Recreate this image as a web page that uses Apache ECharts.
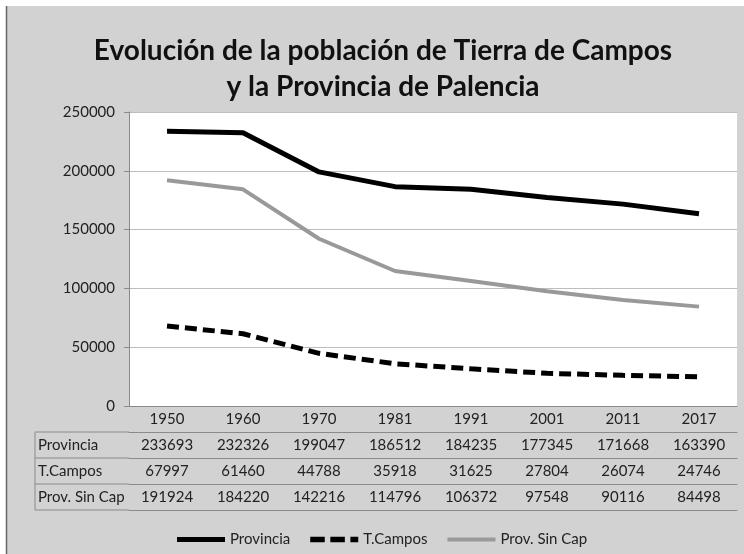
<!DOCTYPE html>
<html>
<head>
<meta charset="utf-8">
<script src="https://cdn.jsdelivr.net/npm/echarts@6/dist/echarts.min.js"></script>
<style>
  * { margin: 0; padding: 0; }
  body { background: #fff; }
  #chart { width: 744px; height: 554px; }
</style>
</head>
<body>
<div id="chart"></div>
<script>
// datos de la tabla
var years = ['1950', '1960', '1970', '1981', '1991', '2001', '2011', '2017'];
var provincia = [233693, 232326, 199047, 186512, 184235, 177345, 171668, 163390];
var tCampos = [67997, 61460, 44788, 35918, 31625, 27804, 26074, 24746];
var provSinCap = [191924, 184220, 142216, 114796, 106372, 97548, 90116, 84498];
var rowNames = ['Provincia', 'T.Campos', 'Prov. Sin Cap'];

var FONT = 'Lato';
var GRID_LEFT = 129, GRID_RIGHT = 7, GRID_TOP = 112, AXIS_Y = 406;
var ROW_H = 26, TABLE_LEFT = 35;
var LINE_COLOR = '#8a8a8a';

var rows = [provincia, tCampos, provSinCap];

// un eje por fila de la tabla, para que las celdas queden alineadas
var xAxes = [{
  type: 'category',
  data: years,
  position: 'bottom',
  axisLine: { lineStyle: { color: LINE_COLOR } },
  axisTick: { length: ROW_H, interval: 0, lineStyle: { color: LINE_COLOR } },
  axisLabel: { interval: 0, margin: 6, fontFamily: FONT, fontSize: 15, color: '#222' }
}];
rows.forEach(function (r, i) {
  xAxes.push({
    type: 'category',
    data: r.map(String),
    position: 'bottom',
    offset: ROW_H * (i + 1),
    axisLine: { lineStyle: { color: LINE_COLOR } },
    axisTick: { length: ROW_H, interval: 0, lineStyle: { color: LINE_COLOR } },
    axisLabel: { interval: 0, margin: 6, fontFamily: FONT, fontSize: 15, color: '#222' }
  });
});
xAxes.push({
  type: 'category',
  data: years,
  position: 'bottom',
  offset: ROW_H * 4,
  axisLine: { lineStyle: { color: LINE_COLOR } },
  axisTick: { show: false },
  axisLabel: { show: false }
});

// columna de la izquierda con los nombres de las filas
var extra = [];
for (var i = 1; i <= 4; i++) {
  extra.push({
    type: 'line',
    shape: { x1: TABLE_LEFT, y1: AXIS_Y + ROW_H * i, x2: GRID_LEFT, y2: AXIS_Y + ROW_H * i },
    style: { stroke: LINE_COLOR, lineWidth: 1 }
  });
}
extra.push({
  type: 'line',
  shape: { x1: TABLE_LEFT, y1: AXIS_Y + ROW_H, x2: TABLE_LEFT, y2: AXIS_Y + ROW_H * 4 },
  style: { stroke: LINE_COLOR, lineWidth: 1 }
});
rowNames.forEach(function (n, i) {
  extra.push({
    type: 'text',
    x: TABLE_LEFT + 3,
    y: AXIS_Y + ROW_H * (i + 1) + ROW_H / 2,
    style: { text: n, font: '15px ' + FONT, fill: '#222', verticalAlign: 'middle' }
  });
});
// marco de la imagen
extra.push(
  { type: 'rect', shape: { x: 0, y: 0, width: 744, height: 6 }, style: { fill: '#fff' } },
  { type: 'rect', shape: { x: 0, y: 0, width: 6, height: 554 }, style: { fill: '#fff' } },
  { type: 'line', shape: { x1: 6.5, y1: 6, x2: 6.5, y2: 554 }, style: { stroke: '#666', lineWidth: 1.5 } }
);

var option = {
  backgroundColor: '#d2d2d2',
  title: {
    text: 'Evolución de la población de Tierra de Campos\ny la Provincia de Palencia',
    left: 378,
    top: 28,
    textAlign: 'center',
    textStyle: { fontFamily: FONT, fontWeight: 'bold', fontSize: 28, lineHeight: 36, color: '#111' }
  },
  legend: {
    left: 172,
    top: 527,
    itemWidth: 48,
    itemHeight: 14,
    itemGap: 20,
    textStyle: { fontFamily: FONT, fontSize: 15, color: '#222' },
    data: [
      { name: 'Provincia', icon: 'path://M0,0h48v5h-48z' },
      { name: 'T.Campos', icon: 'path://M0,0h13v5h-13zM18,0h13v5h-13zM36,0h7v5h-7z' },
      { name: 'Prov. Sin Cap', icon: 'path://M0,0h48v4h-48z' }
    ]
  },
  grid: {
    left: GRID_LEFT,
    right: GRID_RIGHT,
    top: GRID_TOP,
    bottom: 554 - AXIS_Y,
    show: true,
    backgroundColor: '#fff',
    borderWidth: 0
  },
  xAxis: xAxes,
  yAxis: {
    type: 'value',
    min: 0,
    max: 250000,
    interval: 50000,
    axisLine: { show: true, lineStyle: { color: LINE_COLOR } },
    axisTick: { show: true, length: 5, lineStyle: { color: LINE_COLOR } },
    axisLabel: {
      margin: 14, fontFamily: FONT, fontSize: 15, color: '#222',
      formatter: function (v) { return String(v); }
    },
    splitLine: { lineStyle: { color: '#bdbdbd' } }
  },
  graphic: extra,
  series: [
    {
      name: 'Provincia',
      type: 'line',
      data: provincia,
      symbol: 'none',
      lineStyle: { color: '#000', width: 5 },
      itemStyle: { color: '#000' }
    },
    {
      name: 'T.Campos',
      type: 'line',
      data: tCampos,
      symbol: 'none',
      lineStyle: { color: '#000', width: 5, type: [12, 6] },
      itemStyle: { color: '#000' }
    },
    {
      name: 'Prov. Sin Cap',
      type: 'line',
      data: provSinCap,
      symbol: 'none',
      lineStyle: { color: '#999', width: 4 },
      itemStyle: { color: '#999' }
    }
  ]
};

var chart = echarts.init(document.getElementById('chart'));
chart.setOption(option);
</script>
</body>
</html>
